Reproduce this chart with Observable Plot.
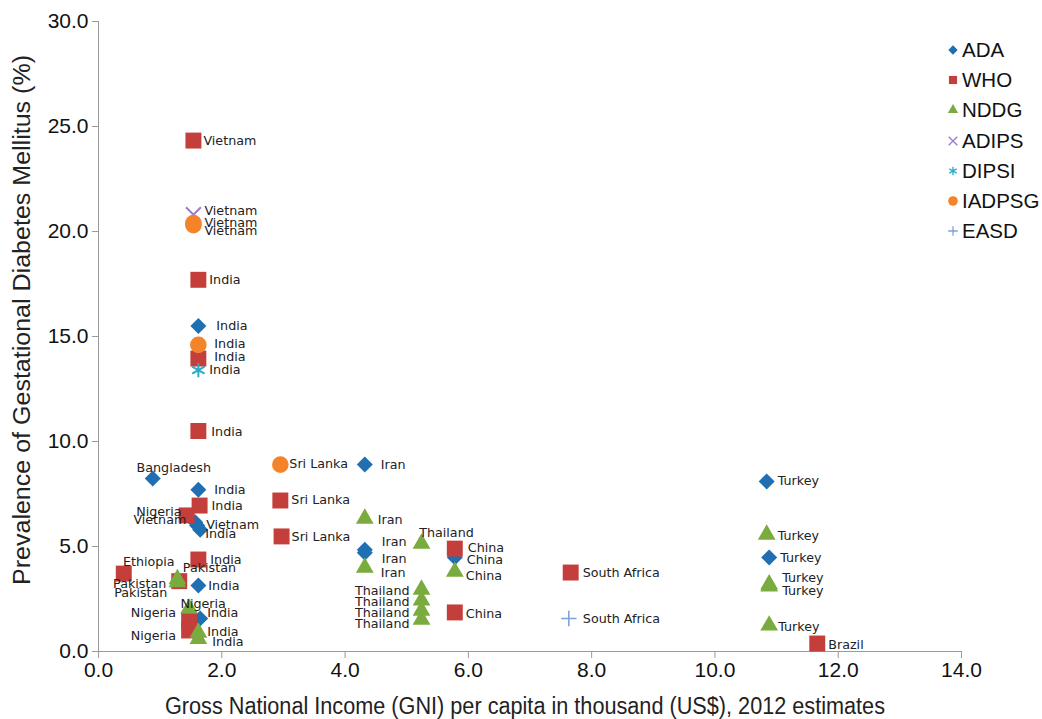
<!DOCTYPE html>
<html>
<head>
<meta charset="utf-8">
<script src="https://cdn.jsdelivr.net/npm/d3@7"></script>
<script src="https://cdn.jsdelivr.net/npm/@observablehq/plot@0.6"></script>
<style>
  html, body { margin: 0; padding: 0; background: #fff; }
  #wrap { position: relative; width: 1042px; height: 719px; }
  #legend { position: absolute; left: 946px; top: 35px; font-family: "Liberation Sans", Arial, sans-serif; font-size: 20.5px; color: #111; }
  .li { height: 30.2px; display: flex; align-items: center; }
  .li svg { margin-right: 2px; }
</style>
</head>
<body>
<div id="wrap"><div id="legend"></div></div>
<script>
// ---------- data ----------
const series = ["ADA", "WHO", "NDDG", "ADIPS", "DIPSI", "IADPSG", "EASD"];
const colors = ["#1f6fb2", "#c43e3b", "#7aab3e", "#9b7bc8", "#2aaac9", "#f5832a", "#7ea4d8"];

const adaCountry = ["India", "Bangladesh", "India", "Vietnam", "Vietnam", "India", "India", "India", "Iran", "Iran", "Iran", "China", "Turkey", "Turkey"];
const adaGNI     = [1.62, 0.88, 1.62, 1.57, 1.60, 1.65, 1.62, 1.65, 4.32, 4.32, 4.32, 5.78, 10.84, 10.88];
const adaGDM     = [15.5, 8.24, 7.7, 6.15, 6.0, 5.8, 3.14, 1.57, 8.9, 4.85, 4.7, 4.48, 8.1, 4.48];

const whoCountry = ["Vietnam", "India", "India", "India", "India", "Nigeria", "India", "Ethiopia", "Pakistan", "Nigeria", "Nigeria", "Sri Lanka", "Sri Lanka", "China", "China", "South Africa", "Brazil"];
const whoGNI     = [1.54, 1.62, 1.62, 1.62, 1.64, 1.43, 1.62, 0.41, 1.31, 1.47, 1.47, 2.95, 2.97, 5.78, 5.78, 7.66, 11.66];
const whoGDM     = [24.33, 17.7, 13.95, 10.5, 6.95, 6.48, 4.38, 3.71, 3.35, 1.45, 1.0, 7.19, 5.48, 4.9, 1.86, 3.76, 0.38];

const nddgCountry = ["Pakistan", "Pakistan", "Nigeria", "India", "India", "Iran", "Iran", "Thailand", "Thailand", "Thailand", "Thailand", "Thailand", "China", "Turkey", "Turkey", "Turkey", "Turkey"];
const nddgGNI     = [1.28, 1.28, 1.47, 1.62, 1.62, 4.32, 4.32, 5.24, 5.24, 5.24, 5.24, 5.24, 5.78, 10.84, 10.88, 10.88, 10.88];
const nddgGDM     = [3.45, 3.3, 2.05, 0.9, 0.6, 6.33, 4.0, 5.14, 2.95, 2.43, 1.95, 1.52, 3.8, 5.57, 3.2, 3.1, 1.24];

const adipsCountry = ["Vietnam"];
const adipsGNI     = [1.54];
const adipsGDM     = [20.8];

const dipsiCountry = ["India"];
const dipsiGNI     = [1.62];
const dipsiGDM     = [13.4];

const iadpsgCountry = ["Vietnam", "Vietnam", "India", "Sri Lanka"];
const iadpsgGNI     = [1.54, 1.54, 1.62, 2.95];
const iadpsgGDM     = [20.4, 20.3, 14.6, 8.9];

const easdCountry = ["South Africa"];
const easdGNI     = [7.63];
const easdGDM     = [1.57];

const xTicks = [0, 2, 4, 6, 8, 10, 12, 14];
const yTicks = [0, 5, 10, 15, 20, 25, 30];
const xTitle = "Gross National Income (GNI) per capita in thousand (US$), 2012 estimates";
const yTitle = "Prevalence of Gestational Diabetes Mellitus (%)";

// ---------- label placement (layout only: [dx, dy, anchor]) ----------
const adaLab = [[18,0,"start"],[21,-11,"middle"],[16,0,"start"],[-9,-2,"end"],[9,-1,"start"],[5,4,"start"],[10,0,"start"],[7,-6,"start"],[16,0,"start"],[17,-8,"start"],[17,6,"start"],[12,3,"start"],[11,0,"start"],[11,1,"start"]];
const whoLab = [[10,0,"start"],[11,0,"start"],[16,-2,"start"],[13,1,"start"],[12,0,"start"],[-5,-3,"end"],[12,0,"start"],[25,-12,"middle"],[-13,3,"end"],[-13,-8,"end"],[-13,5,"end"],[11,-1,"start"],[10,1,"start"],[13,-1,"start"],[11,1,"start"],[12,0,"start"],[11,1,"start"]];
const nddgLab = [[32,-11,"middle"],[-10,11,"end"],[14,-5,"middle"],[9,-1,"start"],[14,3,"start"],[13,1,"start"],[16,5,"start"],[25,-11,"middle"],[-12,1,"end"],[-12,1,"end"],[-12,2,"end"],[-12,4,"end"],[11,4,"start"],[11,1,"start"],[13,-6,"start"],[13,5,"start"],[9,1,"start"]];
const adipsLab = [[11,-4,"start"]];
const dipsiLab = [[11,0,"start"]];
const iadpsgLab = [[11,0,"start"],[11,6,"start"],[16,-1,"start"],[9,-1,"start"]];
const easdLab = [[14,0,"start"]];

// ---------- build ----------
const groups = [
  {name: "ADA",    X: adaGNI,    Y: adaGDM,    C: adaCountry,    L: adaLab,    sym: "diamond2", r: 7.2, filled: true},
  {name: "WHO",    X: whoGNI,    Y: whoGDM,    C: whoCountry,    L: whoLab,    sym: "square",   r: 9,   filled: true},
  {name: "NDDG",   X: nddgGNI,   Y: nddgGDM,   C: nddgCountry,   L: nddgLab,   sym: "triangle", r: 6.6, filled: true},
  {name: "ADIPS",  X: adipsGNI,  Y: adipsGDM,  C: adipsCountry,  L: adipsLab,  sym: "times",    r: 6.8, filled: false, sw: 2},
  {name: "DIPSI",  X: dipsiGNI,  Y: dipsiGDM,  C: dipsiCountry,  L: dipsiLab,  sym: "asterisk", r: 6.8, filled: false, sw: 2},
  {name: "IADPSG", X: iadpsgGNI, Y: iadpsgGDM, C: iadpsgCountry, L: iadpsgLab, sym: "circle",   r: 8.3, filled: true},
  {name: "EASD",   X: easdGNI,   Y: easdGDM,   C: easdCountry,   L: easdLab,   sym: "plus",     r: 5,   filled: false, sw: 1.6}
];

const labelFont = "DejaVu Sans, Verdana, sans-serif";
const marks = [
  Plot.axisX({ticks: xTicks, tickFormat: d => d.toFixed(1), tickSize: 7, tickPadding: 4, stroke: "#9a9a9a", fill: "#111", fontSize: 21, label: null}),
  Plot.axisY({ticks: yTicks, tickFormat: d => d.toFixed(1), tickSize: 6, tickPadding: 4, stroke: "#9a9a9a", fill: "#111", fontSize: 21, label: null}),
  Plot.ruleX([0], {stroke: "#9a9a9a"}),
  Plot.ruleY([0], {stroke: "#9a9a9a"})
];

groups.forEach(g => {
  const idx = d3.range(g.X.length);
  const col = colors[series.indexOf(g.name)];
  marks.push(Plot.dot(idx, {
    x: i => g.X[i], y: i => g.Y[i], symbol: () => g.sym, r: g.r,
    fill: g.filled ? col : "none", stroke: g.filled ? "none" : col,
    strokeWidth: g.sw || 1
  }));
});
groups.forEach(g => {
  g.C.forEach((c, i) => {
    const [dx, dy, anchor] = g.L[i];
    marks.push(Plot.text([i], {
      x: j => g.X[j], y: j => g.Y[j], text: j => g.C[j],
      dx, dy, textAnchor: anchor, lineAnchor: "middle",
      fontSize: 12.7, fontFamily: labelFont, fill: "#222"
    }));
  });
});

const chart = Plot.plot({
  width: 1042, height: 719,
  marginLeft: 98, marginRight: 81, marginTop: 21, marginBottom: 68,
  x: {domain: [0, 14]},
  y: {domain: [0, 30]},
  symbol: {type: "identity"},
  style: {fontFamily: "Liberation Sans, Arial, sans-serif", fontSize: "18px", background: "#fff", color: "#111"},
  marks
});
document.getElementById("wrap").prepend(chart);

// axis titles (condensed to the reference's widths)
const svg = d3.select(chart);
svg.append("text")
  .attr("x", 525).attr("y", 706).attr("dy", "0.35em")
  .attr("text-anchor", "middle")
  .attr("font-family", "Liberation Sans, Arial, sans-serif").attr("font-size", 23)
  .attr("fill", "#222")
  .attr("textLength", 720).attr("lengthAdjust", "spacingAndGlyphs")
  .text(xTitle);
svg.append("text")
  .attr("transform", "translate(22,320) rotate(-90)")
  .attr("dy", "0.35em")
  .attr("text-anchor", "middle")
  .attr("font-family", "Liberation Sans, Arial, sans-serif").attr("font-size", 23)
  .attr("fill", "#222")
  .attr("textLength", 530).attr("lengthAdjust", "spacingAndGlyphs")
  .text(yTitle);

// ---------- legend ----------
const legendSym = {ADA: ["diamond2", 4.2, true], WHO: ["square", 4.6, true], NDDG: ["triangle", 3.8, true], ADIPS: ["times", 4, false], DIPSI: ["asterisk", 4, false], IADPSG: ["circle", 4.8, true], EASD: ["plus", 3.2, false]};
const symMap = {diamond2: d3.symbolDiamond2, square: d3.symbolSquare, triangle: d3.symbolTriangle, times: d3.symbolTimes, asterisk: d3.symbolAsterisk, circle: d3.symbolCircle, plus: d3.symbolPlus};
const legend = d3.select("#legend");
series.forEach((s, i) => {
  const [sym, r, filled] = legendSym[s];
  const row = legend.append("div").attr("class", "li");
  const lsvg = row.append("svg").attr("width", 14).attr("height", 14);
  lsvg.append("path")
    .attr("transform", "translate(7,7)")
    .attr("d", d3.symbol(symMap[sym], Math.PI * r * r)())
    .attr("fill", filled ? colors[i] : "none")
    .attr("stroke", filled ? "none" : colors[i])
    .attr("stroke-width", 1.3);
  row.append("span").text(s);
});
</script>
</body>
</html>
